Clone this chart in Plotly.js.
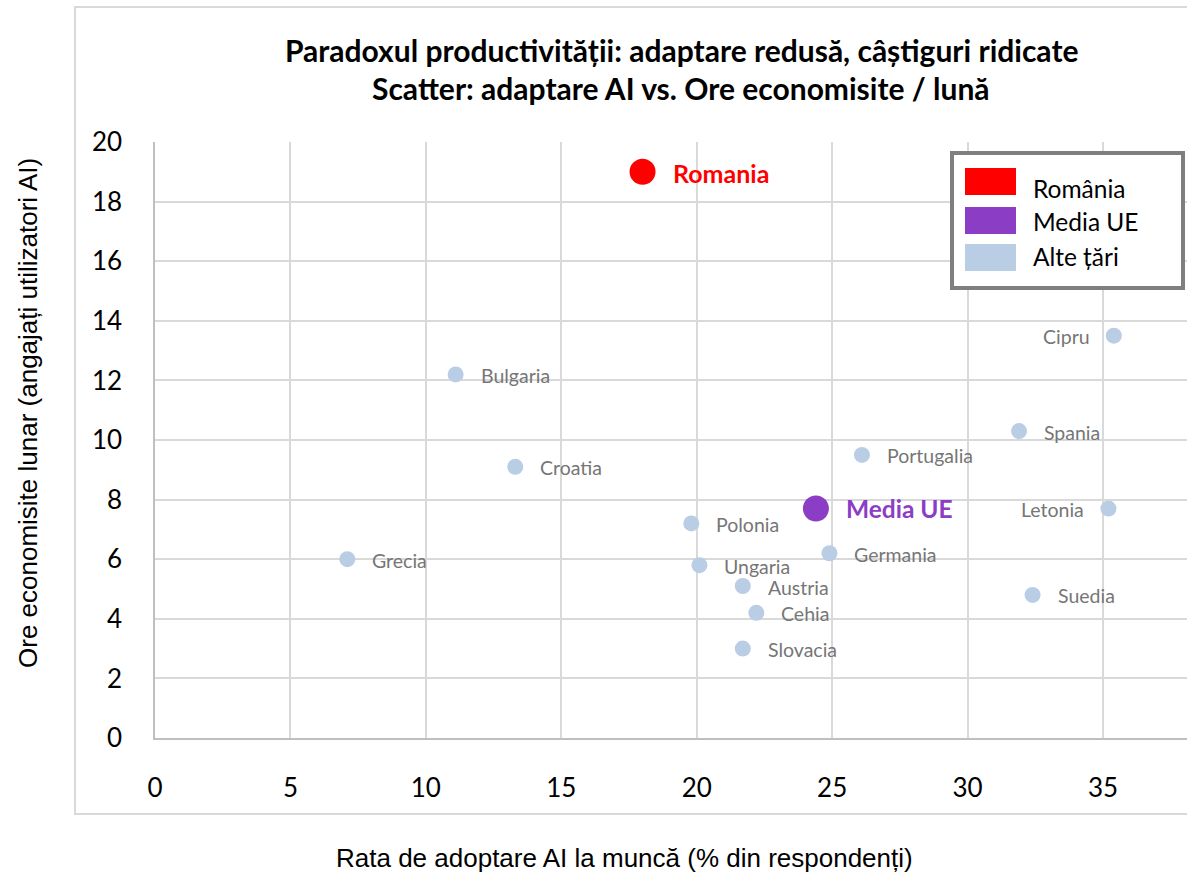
<!DOCTYPE html>
<html>
<head>
<meta charset="utf-8">
<script src="https://cdn.plot.ly/plotly-3.0.1.min.js"></script>
<style>
  html, body { margin: 0; padding: 0; background: #ffffff; }
  #chart { width: 1187px; height: 874px; }
</style>
</head>
<body>
<div id="chart"></div>
<script>
// ---- Data ----
const countries = ["Bulgaria", "Croatia", "Grecia", "Polonia", "Ungaria", "Austria", "Cehia", "Slovacia", "Germania", "Portugalia", "Spania", "Cipru", "Letonia", "Suedia"];
const adoption  = [11.1, 13.3, 7.1, 19.8, 20.1, 21.7, 22.2, 21.7, 24.9, 26.1, 31.9, 35.4, 35.2, 32.4];
const hoursSaved = [12.2, 9.1, 6.0, 7.2, 5.8, 5.1, 4.2, 3.0, 6.2, 9.5, 10.3, 13.5, 7.7, 4.8];
const labelSide = ["right", "right", "right", "right", "right", "right", "right", "right", "right", "right", "right", "left", "left", "right"];

const romaniaName = "Romania";
const romaniaAdoption = [18.0];
const romaniaHours = [19.0];

const euName = "Media UE";
const euAdoption = [24.4];
const euHours = [7.7];

const legendLabels = ["România", "Media UE", "Alte țări"];
const legendColors = ["#ff0000", "#8b3dc5", "#b9cde5"];

const titleLines = ["Paradoxul productivității: adaptare redusă, câștiguri ridicate", "Scatter: adaptare AI vs. Ore economisite / lună"];
const xTitle = "Rata de adoptare AI la muncă (% din respondenți)";
const yTitle = "Ore economisite lunar (angajați utilizatori AI)";
const xTicks = [0, 5, 10, 15, 20, 25, 30, 35];
const yTicks = [0, 2, 4, 6, 8, 10, 12, 14, 16, 18, 20];

// ---- Layout helpers (pixel -> paper) ----
const W = 1187, H = 874;
const M = { l: 155, r: 0, t: 142, b: 136 };
const PW = W - M.l - M.r, PH = H - M.t - M.b;
const px = x => (x - M.l) / PW;
const py = y => (H - M.b - y) / PH;

const labelFont = "Lato, 'Open Sans', sans-serif";
const arialFont = "'Liberation Sans', Arial, sans-serif";

const traces = [
  {
    type: "scatter", mode: "markers",
    x: adoption, y: hoursSaved, text: countries,
    marker: { size: 16, color: legendColors[2] },
    hoverinfo: "text+x+y", showlegend: false, cliponaxis: false
  },
  {
    type: "scatter", mode: "markers",
    x: euAdoption, y: euHours, text: [euName],
    marker: { size: 26, color: legendColors[1] },
    hoverinfo: "text+x+y", showlegend: false, cliponaxis: false
  },
  {
    type: "scatter", mode: "markers",
    x: romaniaAdoption, y: romaniaHours, text: [romaniaName],
    marker: { size: 26, color: legendColors[0] },
    hoverinfo: "text+x+y", showlegend: false, cliponaxis: false
  }
];

const annotations = [];
// Country labels
countries.forEach((c, i) => {
  const right = labelSide[i] === "right";
  annotations.push({
    xref: "x", yref: "y", x: adoption[i], y: hoursSaved[i],
    text: c, showarrow: false,
    xanchor: right ? "left" : "right", yanchor: "middle",
    xshift: right ? 23 : -22, yshift: -1,
    font: { family: labelFont, size: 19.5, color: "#767676" }
  });
});
annotations.push({
  xref: "x", yref: "y", x: romaniaAdoption[0], y: romaniaHours[0],
  text: "<b>" + romaniaName + "</b>", showarrow: false,
  xanchor: "left", yanchor: "middle", xshift: 28, yshift: -1,
  font: { family: labelFont, size: 25, color: legendColors[0] }
});
annotations.push({
  xref: "x", yref: "y", x: euAdoption[0], y: euHours[0],
  text: "<b>" + euName + "</b>", showarrow: false,
  xanchor: "left", yanchor: "middle", xshift: 28, yshift: 0,
  font: { family: labelFont, size: 24.5, color: legendColors[1] }
});
// Title
titleLines.forEach((t, i) => {
  annotations.push({
    xref: "paper", yref: "paper", x: px(681), y: py(i === 0 ? 50 : 88),
    text: "<b>" + t + "</b>", showarrow: false,
    xanchor: "center", yanchor: "middle",
    font: { family: labelFont, size: 30, color: "#000000" }
  });
});
// Axis titles
annotations.push({
  xref: "paper", yref: "paper", x: px(624), y: py(858),
  text: xTitle, showarrow: false, xanchor: "center", yanchor: "middle",
  font: { family: arialFont, size: 26, color: "#000000" }
});
annotations.push({
  xref: "paper", yref: "paper", x: px(28), y: py(413),
  text: yTitle, showarrow: false, xanchor: "center", yanchor: "middle", textangle: -90,
  font: { family: arialFont, size: 26, color: "#000000" }
});

const shapes = [
  // outer chart frame
  { type: "rect", xref: "paper", yref: "paper", x0: px(75), x1: px(1195), y0: py(814), y1: py(7),
    line: { color: "#d9d9d9", width: 2 }, fillcolor: "rgba(0,0,0,0)", layer: "below" },
  // legend box
  { type: "rect", xref: "paper", yref: "paper", x0: px(952), x1: px(1183), y0: py(288), y1: py(153),
    line: { color: "#7f7f7f", width: 4 }, fillcolor: "#ffffff", layer: "above" }
];
const legendRowY = [181.5, 220.5, 257.5];
const legendTextY = [189, 221, 256];
legendLabels.forEach((lab, i) => {
  shapes.push({
    type: "rect", xref: "paper", yref: "paper",
    x0: px(965), x1: px(1016), y0: py(legendRowY[i] + 13.5), y1: py(legendRowY[i] - 13.5),
    line: { width: 0 }, fillcolor: legendColors[i], layer: "above"
  });
  annotations.push({
    xref: "paper", yref: "paper", x: px(1031), y: py(legendTextY[i]),
    text: lab, showarrow: false, xanchor: "left", yanchor: "middle",
    font: { family: labelFont, size: 24.5, color: "#000000" }
  });
});

const layout = {
  width: W, height: H,
  margin: M,
  paper_bgcolor: "#ffffff", plot_bgcolor: "#ffffff",
  showlegend: false,
  xaxis: {
    range: [0, PW / 27.086], tickvals: xTicks, ticktext: xTicks.map(String),
    showgrid: true, gridcolor: "#d9d9d9", gridwidth: 1.5,
    zeroline: false, showline: true, linecolor: "#bfbfbf", linewidth: 1.5,
    ticks: "outside", ticklen: 26, tickcolor: "rgba(0,0,0,0)",
    tickfont: { family: labelFont, size: 26, color: "#000000" }, fixedrange: true
  },
  yaxis: {
    range: [0, 20], tickvals: yTicks, ticktext: yTicks.map(String),
    showgrid: true, gridcolor: "#d9d9d9", gridwidth: 1.5,
    zeroline: false, showline: true, linecolor: "#bfbfbf", linewidth: 1.5,
    ticks: "outside", ticklen: 26, tickcolor: "rgba(0,0,0,0)",
    tickfont: { family: labelFont, size: 26, color: "#000000" }, fixedrange: true
  },
  annotations: annotations,
  shapes: shapes
};

Plotly.newPlot("chart", traces, layout, { displayModeBar: false, responsive: false });
</script>
</body>
</html>
